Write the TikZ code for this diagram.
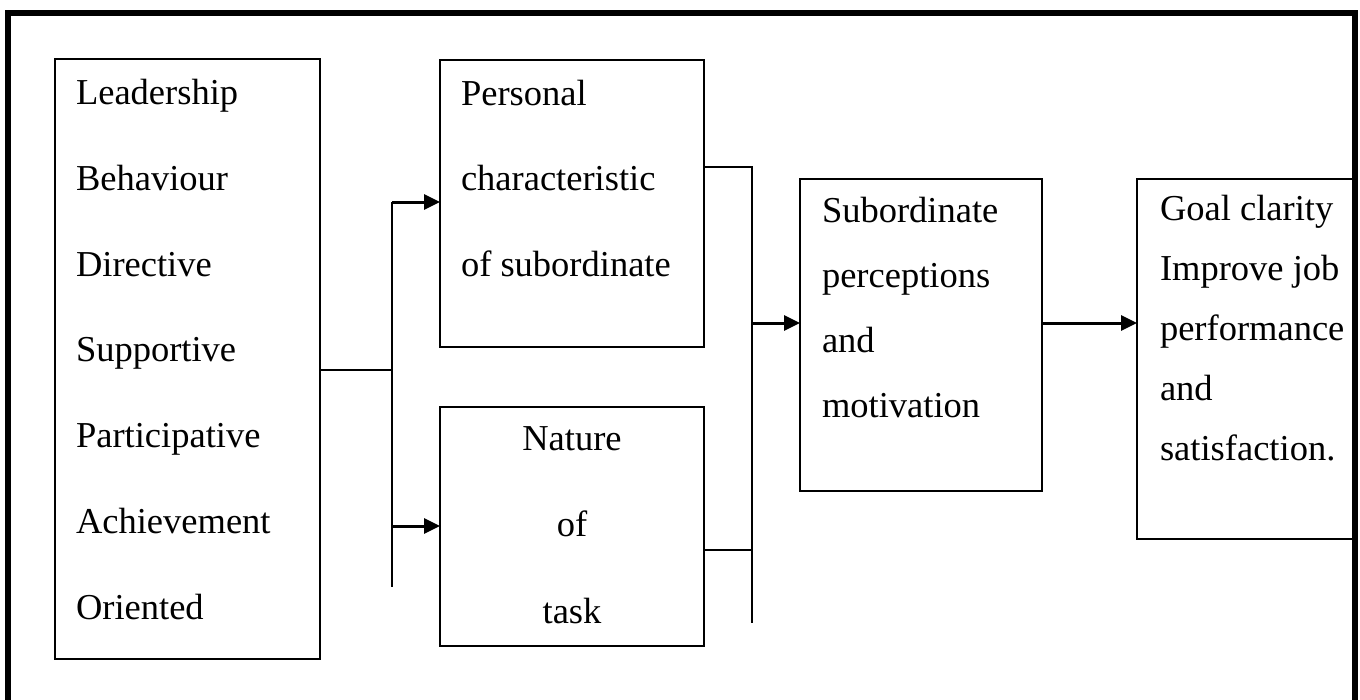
\documentclass[tikz,border=0pt]{standalone}
\usepackage{fontspec}
\setmainfont{Liberation Serif}
\usetikzlibrary{arrows.meta}

\begin{document}
\begin{tikzpicture}[
    x=1pt, y=-1pt,
    every node/.style={inner sep=0pt, outer sep=0pt},
    box/.style={draw, line width=2.2pt, anchor=north west},
    box text/.style={align=left, anchor=base west},
    link/.style={line width=2.2pt},
    flow/.style={line width=3pt, -{Triangle[length=16pt, width=15pt]}}
]
    \useasboundingbox (0,0) rectangle (1360,699);
    % Outer frame (open at the bottom)
    \draw[line width=6pt] (8,720) -- (8,12.5) -- (1355,12.5) -- (1355,720);

    % Boxes
    \node[box, minimum width=265pt, minimum height=600pt] (lead) at (55,59) {};
    \node[box, minimum width=264pt, minimum height=287pt] (pers) at (440,60) {};
    \node[box, minimum width=264pt, minimum height=239pt] (task) at (440,407) {};
    \node[box, minimum width=242pt, minimum height=312pt] (sub) at (800,179) {};
    \node[box, minimum width=217pt, minimum height=360pt] (goal) at (1137,179) {};

    % Texts (placed by the baseline of their last line)
    \node[box text, font=\fontsize{36.5}{85.7}\selectfont] (lead-txt) at (76,619)
        {Leadership\\Behaviour\\Directive\\Supportive\\Participative\\Achievement\\Oriented};
    \node[box text, font=\fontsize{36.5}{85.5}\selectfont] (pers-txt) at (461,276)
        {Personal\\characteristic\\of subordinate};
    \node[align=center, anchor=base, font=\fontsize{36.5}{86.5}\selectfont] (task-txt) at (572,623)
        {Nature\\of\\task};
    \node[box text, font=\fontsize{36.5}{64.7}\selectfont] (sub-txt) at (822,417)
        {Subordinate\\perceptions\\and\\motivation};
    \node[box text, font=\fontsize{36.5}{60}\selectfont] (goal-txt) at (1160,460)
        {Goal clarity\\Improve job\\performance\\and\\satisfaction.};

    % Fork out of the leadership box
    \coordinate (fork mid) at (392,370);
    \coordinate (fork top) at (392,202);
    \coordinate (fork low) at (392,526);
    \coordinate (fork end) at (392,587);
    \draw[link] (lead.east |- fork mid) -- (fork mid);
    \draw[link] (fork top) -- (fork end);
    \draw[flow] (fork top) -- (fork top -| pers.west);
    \draw[flow] (fork low) -- (fork low -| task.west);

    % Join into the subordinate box
    \coordinate (join top) at (752,167);
    \coordinate (join mid) at (752,323);
    \coordinate (join low) at (752,550);
    \coordinate (join end) at (752,623);
    \draw[link] (pers.east |- join top) -- (join top) -- (join end);
    \draw[link] (task.east |- join low) -- (join low);
    \draw[flow] (join mid) -- (join mid -| sub.west);
    \draw[flow] (sub.east |- join mid) -- (goal.west |- join mid);
\end{tikzpicture}
\end{document}
